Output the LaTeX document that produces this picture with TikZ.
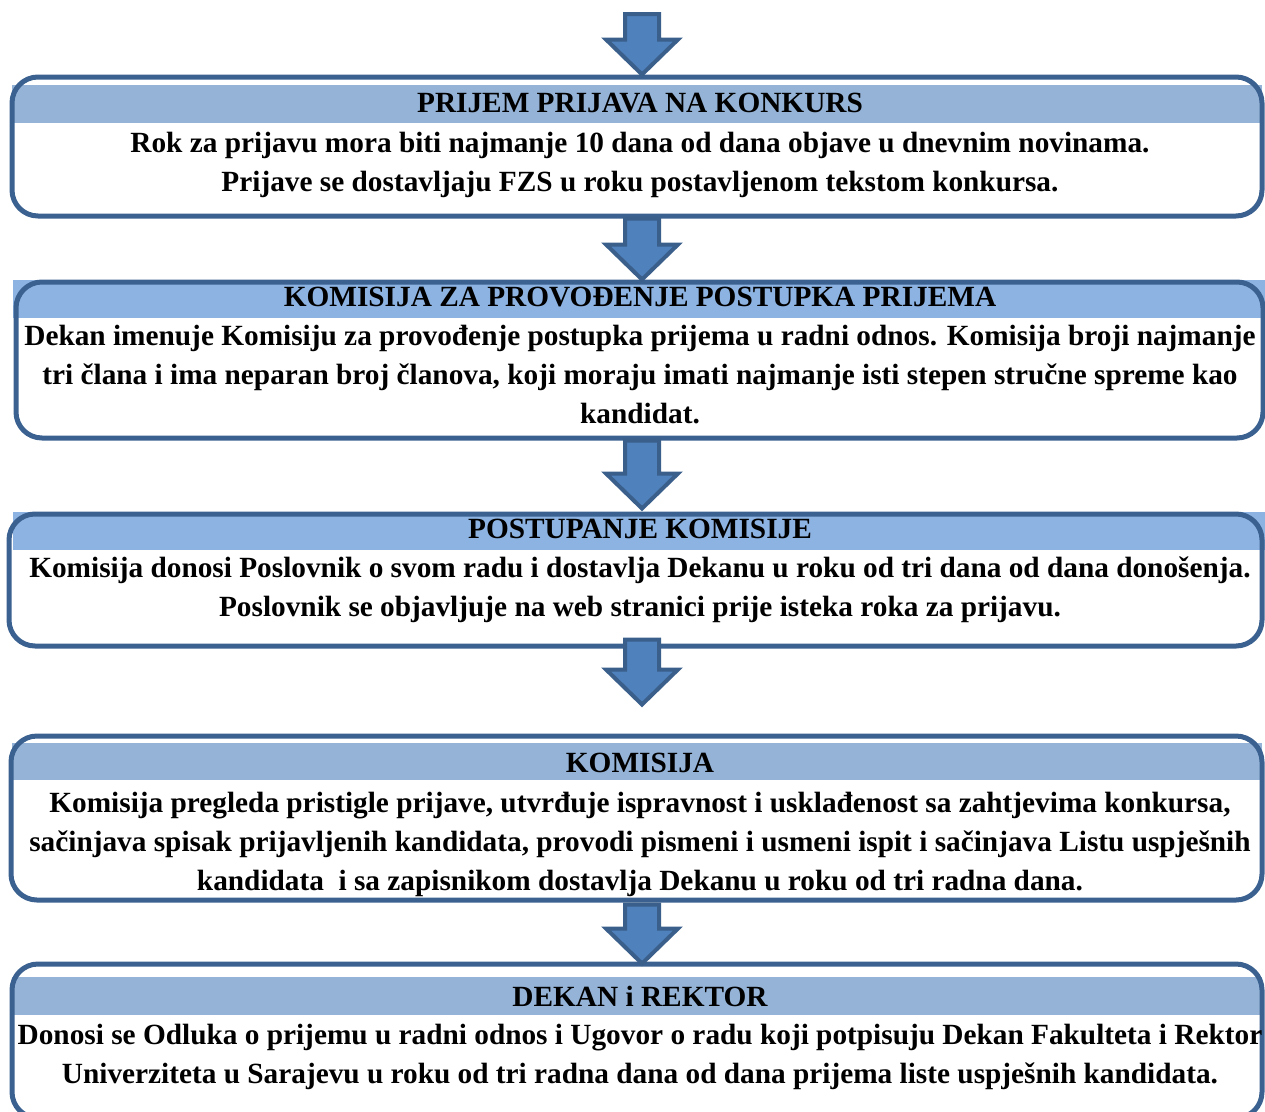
\documentclass[tikz,border=0pt]{standalone}
\usepackage{fontspec}
\setmainfont{Liberation Serif}
\usetikzlibrary{calc}
\definecolor{framecol}{HTML}{3B6190}
\definecolor{bandA}{HTML}{95B3D7}
\definecolor{bandB}{HTML}{8DB3E2}
\definecolor{arrowfill}{HTML}{4F81BD}
\definecolor{arrowline}{HTML}{3A5F8B}
\tikzstyle{frame} = [rectangle, rounded corners=26pt, draw=framecol, line width=5pt, inner sep=0pt]
\tikzstyle{title} = [align=center, inner sep=0pt, font=\fontsize{29.3}{39}\selectfont\bfseries]
\tikzstyle{body} = [align=center, inner sep=0pt, font=\fontsize{29.3}{39}\selectfont\bfseries]
\tikzstyle{blockarrow} = [fill=arrowfill, draw=arrowline, line width=4pt, line join=miter]
% down arrow from #1 (top of shaft) to #2 (tip)
\newcommand{\blockarrow}[2]{%
  \filldraw[blockarrow] let \p1=#1, \p2=#2 in
    (\x1-17pt,\y1) -- (\x1+17pt,\y1) -- (\x1+17pt,\y2+35pt) -- (\x1+36pt,\y2+35pt)
    -- (\x1,\y2) -- (\x1-36pt,\y2+35pt) -- (\x1-17pt,\y2+35pt) -- cycle;}

\begin{document}
\begin{tikzpicture}[x=1pt,y=-1pt]
\clip (0,0) rectangle (1265,1111);
\coordinate (ax) at (642,0);
\coordinate (start) at (642,14);

% header bands
\fill[bandA] (12,85) rectangle (1262,123);
\fill[bandB] (13,280) rectangle (1265,318);
\fill[bandB] (13,512) rectangle (1265,550);
\fill[bandA] (12,743) rectangle (1262,780);
\fill[bandA] (12,977) rectangle (1262,1015);

% boxes
\node[frame, minimum width=1250, minimum height=139] (prijem) at (637,146.5) {};
\node[frame, minimum width=1247, minimum height=156] (komisija) at (639.5,360) {};
\node[frame, minimum width=1253, minimum height=132] (postupanje) at (635.5,580) {};
\node[frame, minimum width=1251, minimum height=164] (pregled) at (636.5,818) {};
\node[frame, minimum width=1250, minimum height=154] (dekan) at (637,1041) {};

% texts
\node[title] (prijemT) at (640,103) {PRIJEM PRIJAVA NA KONKURS};
\node[body] (prijemB) at (640,165) {Rok za prijavu mora biti najmanje 10 dana od dana objave u dnevnim novinama.\\
  Prijave se dostavljaju FZS u roku postavljenom tekstom konkursa.};

\node[title] (komisijaT) at (640,297) {KOMISIJA ZA PROVOĐENJE POSTUPKA PRIJEMA};
\node[body] (komisijaB) at (640,375) {Dekan imenuje Komisiju za provođenje postupka prijema u radni odnos. Komisija broji najmanje\\
  tri člana i ima neparan broj članova, koji moraju imati najmanje isti stepen stručne spreme kao\\
  kandidat.};

\node[title] (postupanjeT) at (640,529) {POSTUPANJE KOMISIJE};
\node[body] (postupanjeB) at (640,590) {Komisija donosi Poslovnik o svom radu i dostavlja Dekanu u roku od tri dana od dana donošenja.\\
  Poslovnik se objavljuje na web stranici prije isteka roka za prijavu.};

\node[title] (pregledT) at (640,763) {KOMISIJA};
\node[body] (pregledB) at (640,844) {Komisija pregleda pristigle prijave, utvrđuje ispravnost i usklađenost sa zahtjevima konkursa,\\
  sačinjava spisak prijavljenih kandidata, provodi pismeni i usmeni ispit i sačinjava Listu uspješnih\\
  kandidata\ \ i sa zapisnikom dostavlja Dekanu u roku od tri radna dana.};

\node[title] (dekanT) at (640,996) {DEKAN i REKTOR};
\node[body] (dekanB) at (640,1057) {Donosi se Odluka o prijemu u radni odnos i Ugovor o radu koji potpisuju Dekan Fakulteta i Rektor\\
  Univerziteta u Sarajevu u roku od tri radna dana od dana prijema liste uspješnih kandidata.};

% arrows
\blockarrow{(start)}{(prijem.north -| ax)}
\blockarrow{(prijem.south -| ax)}{(komisija.north -| ax)}
\blockarrow{(komisija.south -| ax)}{($(postupanje.north -| ax)+(0,-3)$)}
\blockarrow{($(postupanje.south -| ax)+(0,-9)$)}{($(pregled.north -| ax)+(0,-29)$)}
\blockarrow{($(pregled.south -| ax)+(0,2)$)}{($(dekan.north -| ax)+(0,2)$)}
\end{tikzpicture}
\end{document}
